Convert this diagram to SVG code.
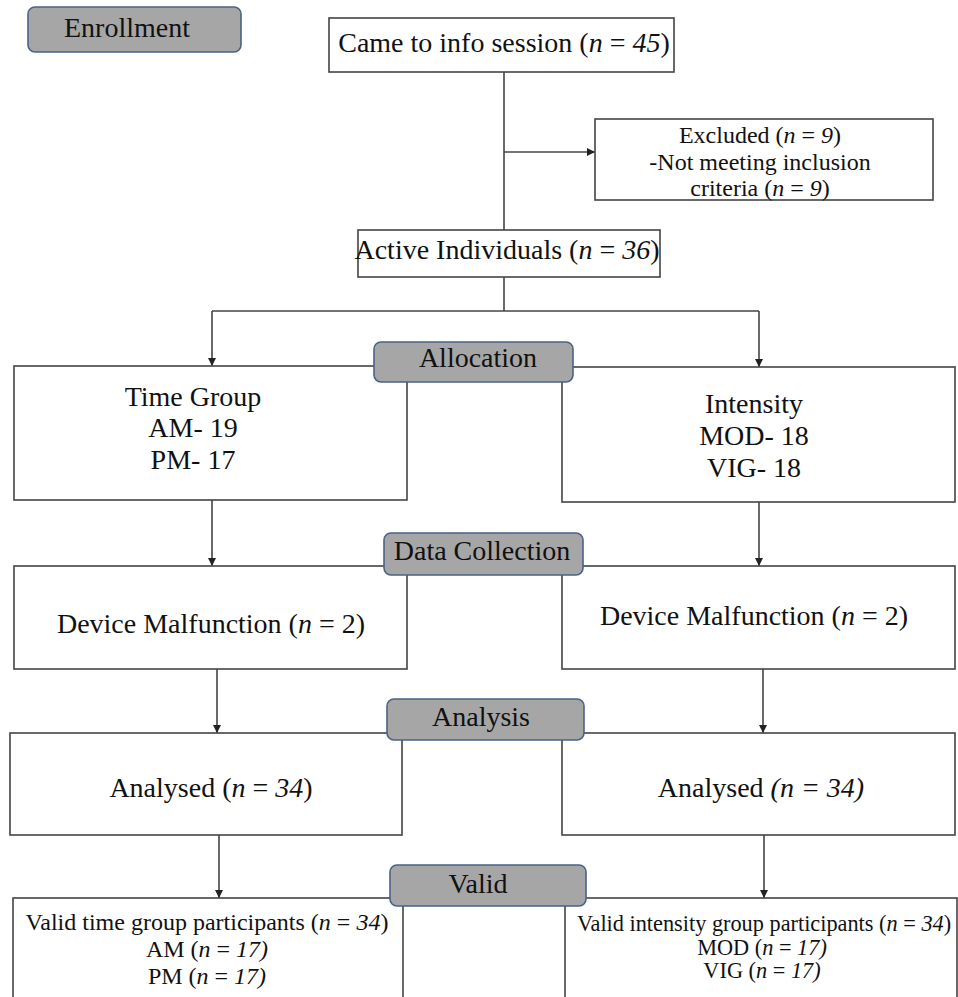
<svg xmlns="http://www.w3.org/2000/svg" width="958" height="997" viewBox="0 0 958 997">
<defs>
<marker id="ah" viewBox="0 0 10 10" refX="10" refY="5" markerWidth="8" markerHeight="8" markerUnits="userSpaceOnUse" orient="auto">
<path d="M0,0 L10,5 L0,10 z" fill="#222"/>
</marker>
<style>
.box{fill:#fff;stroke:#444;stroke-width:1.6}
.lab{fill:#a6a6a6;stroke:#4b6286;stroke-width:1.6}
.t{font-family:"Liberation Serif","Times New Roman",serif;fill:#111;text-anchor:middle}
.big{font-size:28px}
.sm{font-size:24px}
.i{font-style:italic}
.con{fill:none;stroke:#444;stroke-width:1.6}
.arr{marker-end:url(#ah)}
</style>
</defs>
<rect width="958" height="997" fill="#fff"/>

<g id="connectors">
<path class="con" d="M504,72 V230"/>
<path class="con arr" d="M504,152 H595"/>
<path class="con" d="M504,277 V311"/>
<path class="con" d="M212,311 H759"/>
<path class="con arr" d="M212,311 V366"/>
<path class="con arr" d="M759,311 V367"/>
<path class="con arr" d="M212,500 V566"/>
<path class="con arr" d="M759,502 V566"/>
<path class="con arr" d="M217,669 V733"/>
<path class="con arr" d="M763,669 V733"/>
<path class="con arr" d="M219,835 V898"/>
<path class="con arr" d="M764,835 V898"/>
</g>

<g id="came">
<rect class="box" x="329" y="18" width="345" height="54"/>
<text class="t big" x="504" y="52">Came to info session (<tspan class="i">n</tspan> = <tspan class="i">45</tspan>)</text>
</g>

<g id="excluded">
<rect class="box" x="595" y="119" width="338" height="81"/>
<text class="t sm" x="760" y="143">Excluded (<tspan class="i">n</tspan> = <tspan class="i">9</tspan>)</text>
<text class="t sm" x="760" y="170">-Not meeting inclusion</text>
<text class="t sm" x="760" y="196">criteria (<tspan class="i">n</tspan> = <tspan class="i">9</tspan>)</text>
</g>

<g id="active">
<rect class="box" x="358" y="230" width="302" height="47"/>
<text class="t big" x="507" y="259" font-size="27">Active Individuals (<tspan class="i">n</tspan> = <tspan class="i">36</tspan>)</text>
</g>

<g id="timegroup">
<rect class="box" x="14" y="366" width="393" height="134"/>
<text class="t big" x="193" y="406">Time Group</text>
<text class="t big" x="193" y="437">AM- 19</text>
<text class="t big" x="193" y="469">PM- 17</text>
</g>

<g id="intensity">
<rect class="box" x="562" y="367" width="393" height="135"/>
<text class="t big" x="754" y="413">Intensity</text>
<text class="t big" x="754" y="445">MOD- 18</text>
<text class="t big" x="754" y="477">VIG- 18</text>
</g>

<g id="device-left">
<rect class="box" x="14" y="566" width="393" height="103"/>
<text class="t big" x="211" y="633">Device Malfunction (<tspan class="i">n</tspan> = 2)</text>
</g>

<g id="device-right">
<rect class="box" x="562" y="566" width="393" height="103"/>
<text class="t big" x="754" y="625">Device Malfunction (<tspan class="i">n</tspan> = 2)</text>
</g>

<g id="analysed-left">
<rect class="box" x="10" y="733" width="392" height="102"/>
<text class="t big" x="211" y="797">Analysed (<tspan class="i">n</tspan> = <tspan class="i">34</tspan>)</text>
</g>

<g id="analysed-right">
<rect class="box" x="562" y="733" width="393" height="102"/>
<text class="t big" x="761" y="797">Analysed <tspan class="i">(n = 34)</tspan></text>
</g>

<g id="valid-left">
<rect class="box" x="13" y="898" width="390" height="120"/>
<text class="t" font-size="24" x="207" y="930">Valid time group participants (<tspan class="i">n</tspan> = <tspan class="i">34</tspan>)</text>
<text class="t" font-size="24" x="207" y="957">AM (<tspan class="i">n</tspan> = <tspan class="i">17)</tspan></text>
<text class="t" font-size="24" x="207" y="984">PM (<tspan class="i">n</tspan> = <tspan class="i">17)</tspan></text>
</g>

<g id="valid-right">
<rect class="box" x="565" y="898" width="392" height="120"/>
<text class="t" font-size="22.3" x="764" y="931">Valid intensity group participants (<tspan class="i">n</tspan> = <tspan class="i">34</tspan>)</text>
<text class="t" font-size="22.3" x="762" y="955">MOD (<tspan class="i">n</tspan> = <tspan class="i">17)</tspan></text>
<text class="t" font-size="22.3" x="762" y="978">VIG (<tspan class="i">n</tspan> = <tspan class="i">17)</tspan></text>
</g>

<g id="label-enrollment">
<rect class="lab" x="28" y="7" width="213" height="45" rx="7"/>
<text class="t big" x="127" y="37">Enrollment</text>
</g>
<g id="label-allocation">
<rect class="lab" x="374" y="342" width="199" height="40" rx="7"/>
<text class="t big" x="478" y="367">Allocation</text>
</g>
<g id="label-datacollection">
<rect class="lab" x="384" y="533" width="199" height="42" rx="7"/>
<text class="t big" x="482" y="560" font-size="26">Data Collection</text>
</g>
<g id="label-analysis">
<rect class="lab" x="387" y="699" width="197" height="41" rx="7"/>
<text class="t big" x="481" y="726">Analysis</text>
</g>
<g id="label-valid">
<rect class="lab" x="390" y="865" width="196" height="41" rx="7"/>
<text class="t big" x="478" y="893">Valid</text>
</g>
</svg>
